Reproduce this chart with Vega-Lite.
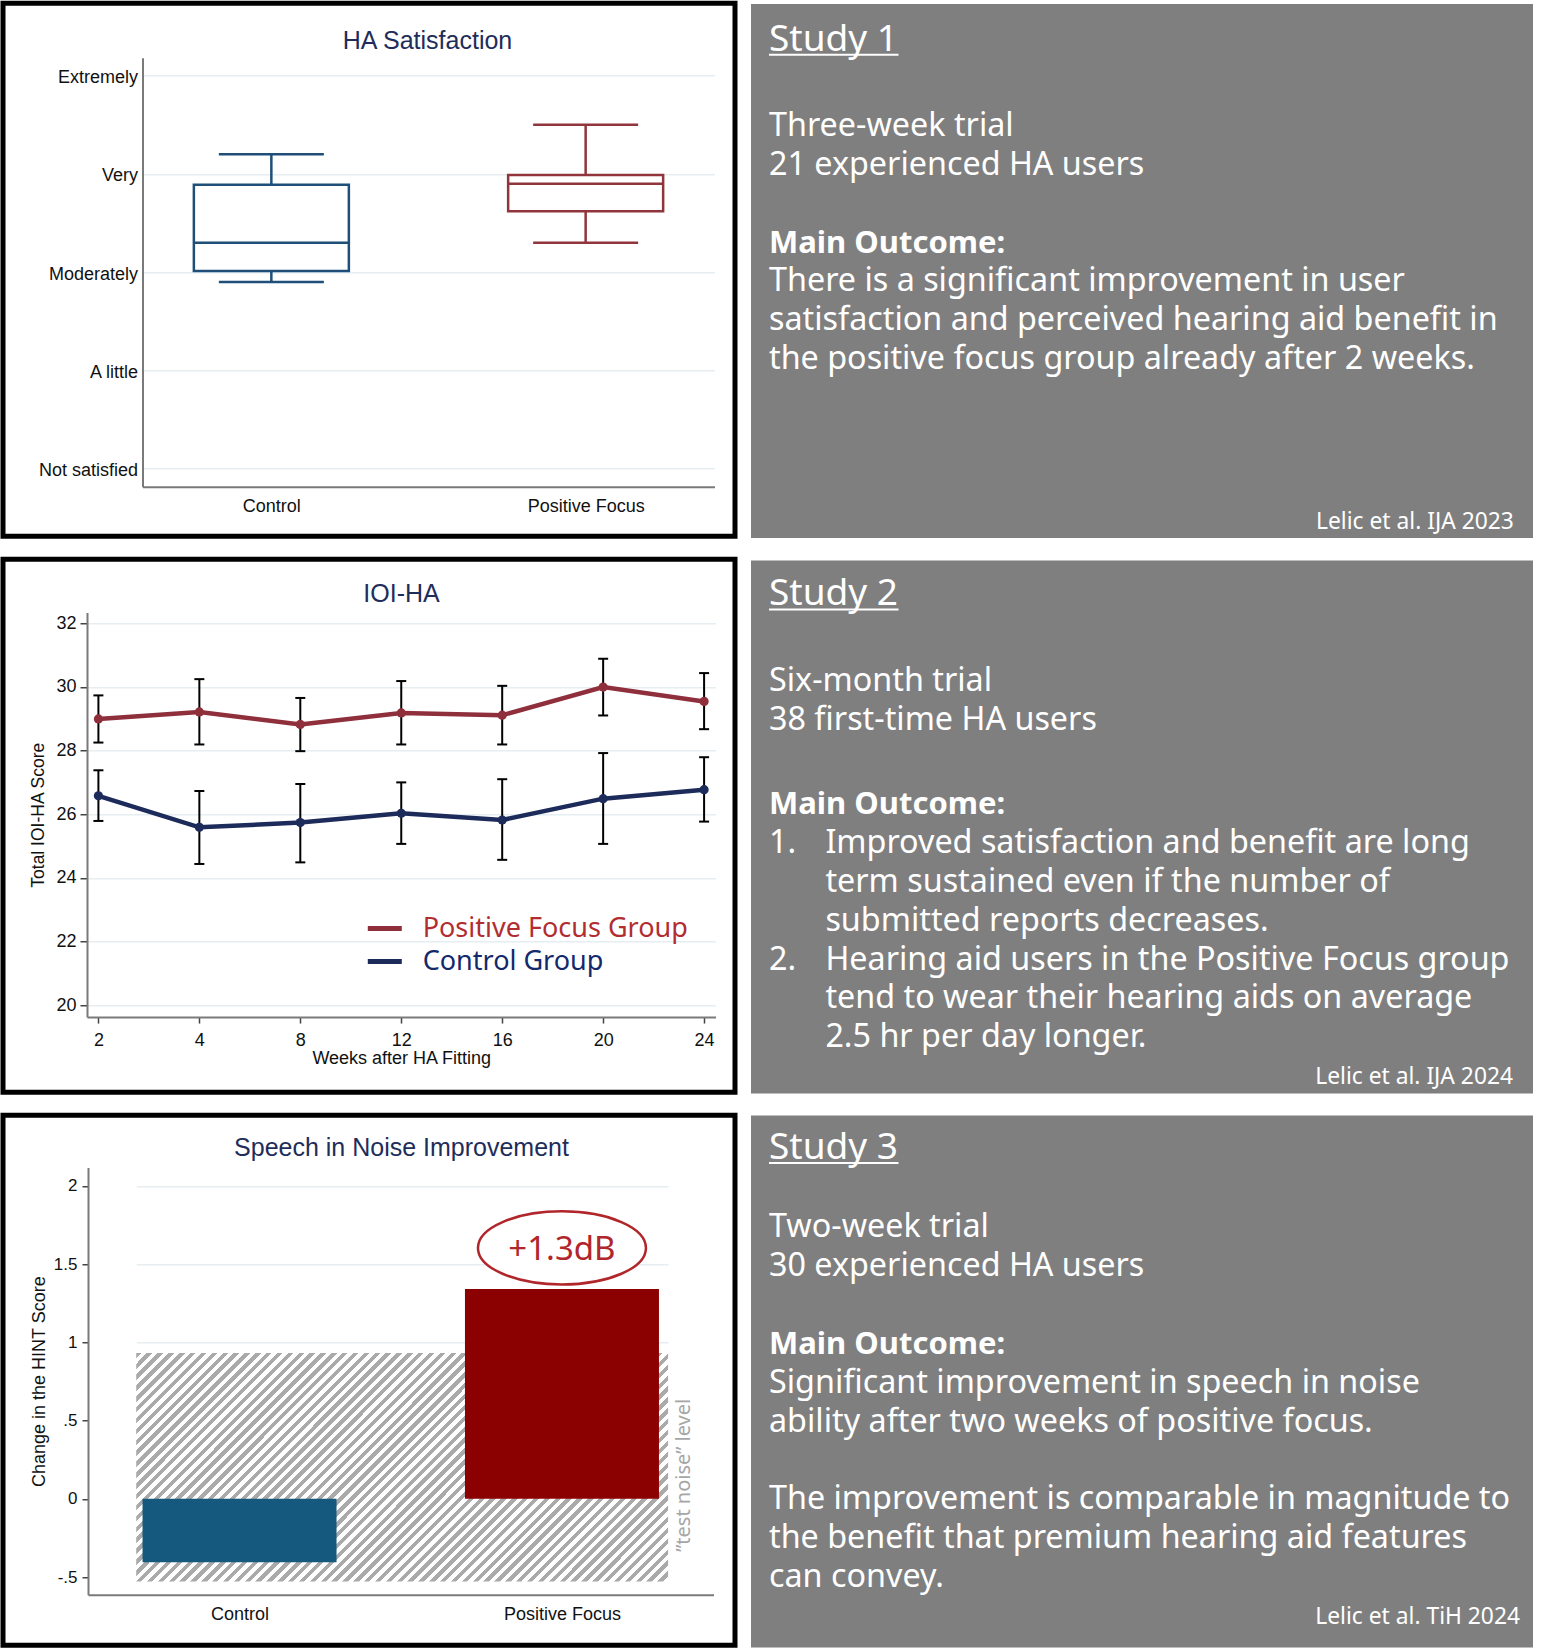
{
"$schema":"https://vega.github.io/schema/vega-lite/v6.json",
"padding":0,
"background":"#ffffff",
"spacing":17,
"resolve":{"scale":{"color":"independent","stroke":"independent"}},
"config":{"view":{"stroke":null},
 "axis":{"labelFont":"Liberation Sans","titleFont":"Liberation Sans","labelColor":"#111111","titleColor":"#111111","titleFontWeight":"normal","labelFontWeight":"normal","domainColor":"#7a7a7a","domainWidth":2,"tickColor":"#444444","tickWidth":1.5,"gridColor":"#e6eef1","gridWidth":1.5}},
"datasets":{
 "box":[
  {"group":"Control","min":2.9,"q1":3.01,"median":3.3,"q3":3.89,"max":4.2},
  {"group":"Positive Focus","min":3.3,"q1":3.62,"median":3.9,"q3":3.99,"max":4.5}],
 "ioi":[
  {"week":2,"group":"Positive Focus Group","mean":28.99,"lo":28.25,"hi":29.73},
  {"week":4,"group":"Positive Focus Group","mean":29.21,"lo":28.19,"hi":30.24},
  {"week":8,"group":"Positive Focus Group","mean":28.82,"lo":27.98,"hi":29.65},
  {"week":12,"group":"Positive Focus Group","mean":29.18,"lo":28.19,"hi":30.18},
  {"week":16,"group":"Positive Focus Group","mean":29.11,"lo":28.19,"hi":30.03},
  {"week":20,"group":"Positive Focus Group","mean":29.99,"lo":29.1,"hi":30.88},
  {"week":24,"group":"Positive Focus Group","mean":29.54,"lo":28.67,"hi":30.43},
  {"week":2,"group":"Control Group","mean":26.58,"lo":25.79,"hi":27.38},
  {"week":4,"group":"Control Group","mean":25.59,"lo":24.44,"hi":26.73},
  {"week":8,"group":"Control Group","mean":25.74,"lo":24.49,"hi":26.95},
  {"week":12,"group":"Control Group","mean":26.03,"lo":25.07,"hi":27.0},
  {"week":16,"group":"Control Group","mean":25.82,"lo":24.57,"hi":27.1},
  {"week":20,"group":"Control Group","mean":26.49,"lo":25.07,"hi":27.92},
  {"week":24,"group":"Control Group","mean":26.77,"lo":25.77,"hi":27.79}],
 "hint":[{"group":"Control","change":-0.405},{"group":"Positive Focus","change":1.34}],
 "noise":[{"band":"test noise","lo":-0.528,"hi":0.932}],
 "t1":[
  {"style":"heading","indent":0,"line":-2,"text":"Study 1"},
  {"style":"intro","indent":0,"line":0,"text":"Three-week trial"},
  {"style":"intro","indent":0,"line":1,"text":"21 experienced HA users"},
  {"style":"bold","indent":0,"line":3,"text":"Main Outcome:"},
  {"style":"body","indent":0,"line":4,"text":"There is a significant improvement in user"},
  {"style":"body","indent":0,"line":5,"text":"satisfaction and perceived hearing aid benefit in"},
  {"style":"body","indent":0,"line":6,"text":"the positive focus group already after 2 weeks."}],
 "t2":[
  {"style":"heading","indent":0,"line":-2,"text":"Study 2"},
  {"style":"intro","indent":0,"line":0,"text":"Six-month trial"},
  {"style":"intro","indent":0,"line":1,"text":"38 first-time HA users"},
  {"style":"bold","indent":0,"line":3,"text":"Main Outcome:"},
  {"style":"body","indent":0,"line":4,"text":"1."},
  {"style":"body","indent":1,"line":4,"text":"Improved satisfaction and benefit are long"},
  {"style":"body","indent":1,"line":5,"text":"term sustained even if the number of"},
  {"style":"body","indent":1,"line":6,"text":"submitted reports decreases."},
  {"style":"body","indent":0,"line":7,"text":"2."},
  {"style":"body","indent":1,"line":7,"text":"Hearing aid users in the Positive Focus group"},
  {"style":"body","indent":1,"line":8,"text":"tend to wear their hearing aids on average"},
  {"style":"body","indent":1,"line":9,"text":"2.5 hr per day longer."}],
 "t3":[
  {"style":"heading","indent":0,"line":-2,"text":"Study 3"},
  {"style":"intro","indent":0,"line":0,"text":"Two-week trial"},
  {"style":"intro","indent":0,"line":1,"text":"30 experienced HA users"},
  {"style":"bold","indent":0,"line":3,"text":"Main Outcome:"},
  {"style":"body","indent":0,"line":4,"text":"Significant improvement in speech in noise"},
  {"style":"body","indent":0,"line":5,"text":"ability after two weeks of positive focus."},
  {"style":"body","indent":0,"line":7,"text":"The improvement is comparable in magnitude to"},
  {"style":"body","indent":0,"line":8,"text":"the benefit that premium hearing aid features"},
  {"style":"body","indent":0,"line":9,"text":"can convey."}]
},
"vconcat":[
 {"hconcat":[
  {"width":732,"height":533,
   "view":{"stroke":"#000000","strokeWidth":5,"fill":"#ffffff"},
   "title":{"text":"HA Satisfaction","anchor":"middle","frame":"group","baseline":"alphabetic","offset":-70.5,"dx":58.5,"font":"Liberation Sans","fontSize":25,"fontWeight":"normal","color":"#1e2d5a"},
   "data":{"name":"box"},
   "encoding":{"x":{"field":"group","type":"nominal","sort":null,"scale":{"type":"point","domain":["Control","Positive Focus"],"range":[139.5,711.5],"padding":0.41},"axis":{"title":null,"orient":"bottom","offset":-49.5,"ticks":false,"tickSize":0,"labelPadding":10.7,"labelFontSize":18,"labelAngle":0,"grid":false}}},
   "layer":[
    {"mark":{"type":"rule","strokeWidth":2.5},
     "encoding":{"y":{"field":"min","type":"quantitative","scale":{"domain":[0.814,5.183],"range":[483.5,54.5],"nice":false,"zero":false},"axis":{"title":null,"orient":"left","values":[1,2,3,4,5],"labelExpr":"['','Not satisfied','A little','Moderately','Very','Extremely'][datum.value]","offset":-139.5,"ticks":false,"tickSize":0,"labelPadding":5,"labelFontSize":18,"labelOffset":2,"grid":true}},
      "y2":{"field":"q1"},
      "color":{"field":"group","type":"nominal","scale":{"domain":["Control","Positive Focus"],"range":["#1f4e79","#90353b"]},"legend":null}}},
    {"mark":{"type":"rule","strokeWidth":2.5},"encoding":{"y":{"field":"q3","type":"quantitative"},"y2":{"field":"max"},"color":{"field":"group","type":"nominal","legend":null}}},
    {"mark":{"type":"bar","size":155,"fill":"#ffffff","strokeWidth":2.5},"encoding":{"y":{"field":"q1","type":"quantitative"},"y2":{"field":"q3"},"stroke":{"field":"group","type":"nominal","scale":{"domain":["Control","Positive Focus"],"range":["#1f4e79","#90353b"]},"legend":null}}},
    {"mark":{"type":"tick","size":155,"thickness":2.5,"opacity":1},"encoding":{"y":{"field":"median","type":"quantitative"},"color":{"field":"group","type":"nominal","legend":null}}},
    {"mark":{"type":"tick","size":105,"thickness":2.5,"opacity":1},"encoding":{"y":{"field":"min","type":"quantitative"},"color":{"field":"group","type":"nominal","legend":null}}},
    {"mark":{"type":"tick","size":105,"thickness":2.5,"opacity":1},"encoding":{"y":{"field":"max","type":"quantitative"},"color":{"field":"group","type":"nominal","legend":null}}}
   ]},
  {"width":782,"height":534,
   "view":{"fill":"#7f7f7f","stroke":null},
   "title":{"text":"Lelic et al. IJA 2023","orient":"bottom","anchor":"end","frame":"group","baseline":"alphabetic","offset":-9.4,"dx":-19.2,"font":"Noto Sans","fontSize":22.8,"fontWeight":"normal","color":"#ffffff"},
   "data":{"name":"t1"},
   "encoding":{"x":{"field":"indent","type":"quantitative","scale":{"domain":[0,1],"range":[18,74.4],"zero":false,"nice":false},"axis":null},
    "y":{"field":"line","type":"quantitative","scale":{"domain":[0,10],"range":[131.8,520.8],"zero":false,"nice":false},"axis":null}},
   "layer":[
    {"transform":[{"filter":"datum.style === 'heading'"}],"mark":{"type":"text","align":"left","baseline":"alphabetic","font":"Noto Sans","fontSize":37,"color":"#ffffff","dy":-7.3},"encoding":{"text":{"field":"text"}}},
    {"transform":[{"filter":"datum.style === 'heading'"}],"mark":{"type":"rule","color":"#ffffff","strokeWidth":2},"encoding":{"x":{"datum":0},"x2":{"datum":2.296},"y":{"datum":-2.082}}},
    {"transform":[{"filter":"datum.style === 'intro'"}],"mark":{"type":"text","align":"left","baseline":"alphabetic","font":"Noto Sans","fontSize":32.3,"color":"#ffffff"},"encoding":{"text":{"field":"text"}}},
    {"transform":[{"filter":"datum.style === 'body'"}],"mark":{"type":"text","align":"left","baseline":"alphabetic","font":"Noto Sans","fontSize":32.3,"color":"#ffffff"},"encoding":{"text":{"field":"text"}}},
    {"transform":[{"filter":"datum.style === 'bold'"}],"mark":{"type":"text","align":"left","baseline":"alphabetic","font":"Noto Sans","fontSize":31,"fontWeight":"bold","color":"#ffffff"},"encoding":{"text":{"field":"text"}}}
   ]}
 ],"spacing":13,"center":true,"resolve":{"scale":{"color":"independent","stroke":"independent"}}},
 {"hconcat":[
  {"width":732,"height":533,
   "view":{"stroke":"#000000","strokeWidth":5,"fill":"#ffffff"},
   "title":{"text":"IOI-HA","anchor":"middle","frame":"group","baseline":"alphabetic","offset":-67.5,"dx":32.5,"font":"Liberation Sans","fontSize":25,"fontWeight":"normal","color":"#1e2d5a"},
   "data":{"name":"ioi"},
   "encoding":{"x":{"field":"week","type":"ordinal","sort":null,"scale":{"type":"point","domain":[2,4,8,12,16,20,24],"range":[84,712.5],"padding":0.113},"axis":{"title":"Weeks after HA Fitting","titleFontSize":18,"titlePadding":0,"orient":"bottom","offset":-75.2,"tickSize":6,"labelPadding":8.7,"labelFontSize":18,"labelAngle":0,"grid":false}}},
   "layer":[
    {"mark":{"type":"line","strokeWidth":4.5},
     "encoding":{"y":{"field":"mean","type":"quantitative","scale":{"domain":[19.636,32.333],"range":[457.8,53.2],"nice":false,"zero":false},"axis":{"title":"Total IOI-HA Score","titleFontSize":17.5,"titlePadding":8,"orient":"left","values":[20,22,24,26,28,30,32],"offset":-84,"tickSize":7,"labelPadding":4,"labelFontSize":18,"grid":true}},
      "stroke":{"field":"group","type":"nominal","scale":{"domain":["Positive Focus Group","Control Group"],"range":["#8f2f3c","#1c2b5a"]},
       "legend":{"orient":"none","legendX":362.3,"legendY":349.8,"title":null,"symbolType":"stroke","symbolSize":1156,"symbolStrokeWidth":5,"labelFont":"Noto Sans","labelFontSize":27,"labelOffset":18.4,"rowPadding":0,"padding":0,"labelLimit":500,
        "encode":{"labels":{"update":{"fill":{"signal":"datum.value === 'Positive Focus Group' ? '#b22d30' : '#13296b'"}}}}}}}},
    {"mark":{"type":"rule","color":"#000000","strokeWidth":2},"encoding":{"y":{"field":"lo","type":"quantitative"},"y2":{"field":"hi"}}},
    {"mark":{"type":"tick","color":"#000000","size":10,"thickness":2,"opacity":1},"encoding":{"y":{"field":"lo","type":"quantitative"}}},
    {"mark":{"type":"tick","color":"#000000","size":10,"thickness":2,"opacity":1},"encoding":{"y":{"field":"hi","type":"quantitative"}}},
    {"mark":{"type":"point","filled":true,"size":85,"opacity":1},"encoding":{"y":{"field":"mean","type":"quantitative"},"color":{"field":"group","type":"nominal","scale":{"domain":["Positive Focus Group","Control Group"],"range":["#8f2f3c","#1c2b5a"]},"legend":null}}}
   ]},
  {"width":782,"height":533,
   "view":{"fill":"#7f7f7f","stroke":null},
   "title":{"text":"Lelic et al. IJA 2024","orient":"bottom","anchor":"end","frame":"group","baseline":"alphabetic","offset":-9.9,"dx":-20,"font":"Noto Sans","fontSize":22.8,"fontWeight":"normal","color":"#ffffff"},
   "data":{"name":"t2"},
   "encoding":{"x":{"field":"indent","type":"quantitative","scale":{"domain":[0,1],"range":[18,74.4],"zero":false,"nice":false},"axis":null},
    "y":{"field":"line","type":"quantitative","scale":{"domain":[0,10],"range":[136.7,525.7],"zero":false,"nice":false},"axis":null}},
   "layer":[
    {"transform":[{"filter":"datum.style === 'heading'"}],"mark":{"type":"text","align":"left","baseline":"alphabetic","font":"Noto Sans","fontSize":37,"color":"#ffffff","dy":-14},"encoding":{"text":{"field":"text"}}},
    {"transform":[{"filter":"datum.style === 'heading'"}],"mark":{"type":"rule","color":"#ffffff","strokeWidth":2},"encoding":{"x":{"datum":0},"x2":{"datum":2.296},"y":{"datum":-2.254}}},
    {"transform":[{"filter":"datum.style === 'intro'"}],"mark":{"type":"text","align":"left","baseline":"alphabetic","font":"Noto Sans","fontSize":32.3,"color":"#ffffff","dy":-6.4},"encoding":{"text":{"field":"text"}}},
    {"transform":[{"filter":"datum.style === 'body'"}],"mark":{"type":"text","align":"left","baseline":"alphabetic","font":"Noto Sans","fontSize":32.3,"color":"#ffffff"},"encoding":{"text":{"field":"text"}}},
    {"transform":[{"filter":"datum.style === 'bold'"}],"mark":{"type":"text","align":"left","baseline":"alphabetic","font":"Noto Sans","fontSize":31,"fontWeight":"bold","color":"#ffffff"},"encoding":{"text":{"field":"text"}}}
   ]}
 ],"spacing":13,"center":true,"resolve":{"scale":{"color":"independent","stroke":"independent"}}},
 {"hconcat":[
  {"width":732,"height":530,
   "view":{"stroke":"#000000","strokeWidth":5,"fill":"#ffffff"},
   "title":{"text":"Speech in Noise Improvement","anchor":"middle","frame":"group","baseline":"alphabetic","offset":-66,"dx":32.5,"font":"Liberation Sans","fontSize":25,"fontWeight":"normal","color":"#1e2d5a"},
   "resolve":{"scale":{"x":"independent"}},
   "layer":[
    {"data":{"name":"noise"},
     "encoding":{"x":{"field":"band","type":"nominal","scale":{"type":"band","range":[133.2,665.1],"paddingInner":0,"paddingOuter":0},"axis":null}},
     "layer":[
      {"mark":{"type":"rect","strokeWidth":0,"fill":{"gradient":"linear","x1":0,"y1":0,"x2":1.207,"y2":0.518,"stops":[
{"offset":0,"color":"#aaa"},
{"offset":0.00714,"color":"#aaa"},{"offset":0.00714,"color":"#fff"},{"offset":0.01429,"color":"#fff"},{"offset":0.01429,"color":"#aaa"},
{"offset":0.02143,"color":"#aaa"},{"offset":0.02143,"color":"#fff"},{"offset":0.02857,"color":"#fff"},{"offset":0.02857,"color":"#aaa"},
{"offset":0.03571,"color":"#aaa"},{"offset":0.03571,"color":"#fff"},{"offset":0.04286,"color":"#fff"},{"offset":0.04286,"color":"#aaa"},
{"offset":0.05,"color":"#aaa"},{"offset":0.05,"color":"#fff"},{"offset":0.05714,"color":"#fff"},{"offset":0.05714,"color":"#aaa"},
{"offset":0.06429,"color":"#aaa"},{"offset":0.06429,"color":"#fff"},{"offset":0.07143,"color":"#fff"},{"offset":0.07143,"color":"#aaa"},
{"offset":0.07857,"color":"#aaa"},{"offset":0.07857,"color":"#fff"},{"offset":0.08571,"color":"#fff"},{"offset":0.08571,"color":"#aaa"},
{"offset":0.09286,"color":"#aaa"},{"offset":0.09286,"color":"#fff"},{"offset":0.1,"color":"#fff"},{"offset":0.1,"color":"#aaa"},
{"offset":0.10714,"color":"#aaa"},{"offset":0.10714,"color":"#fff"},{"offset":0.11429,"color":"#fff"},{"offset":0.11429,"color":"#aaa"},
{"offset":0.12143,"color":"#aaa"},{"offset":0.12143,"color":"#fff"},{"offset":0.12857,"color":"#fff"},{"offset":0.12857,"color":"#aaa"},
{"offset":0.13571,"color":"#aaa"},{"offset":0.13571,"color":"#fff"},{"offset":0.14286,"color":"#fff"},{"offset":0.14286,"color":"#aaa"},
{"offset":0.15,"color":"#aaa"},{"offset":0.15,"color":"#fff"},{"offset":0.15714,"color":"#fff"},{"offset":0.15714,"color":"#aaa"},
{"offset":0.16429,"color":"#aaa"},{"offset":0.16429,"color":"#fff"},{"offset":0.17143,"color":"#fff"},{"offset":0.17143,"color":"#aaa"},
{"offset":0.17857,"color":"#aaa"},{"offset":0.17857,"color":"#fff"},{"offset":0.18571,"color":"#fff"},{"offset":0.18571,"color":"#aaa"},
{"offset":0.19286,"color":"#aaa"},{"offset":0.19286,"color":"#fff"},{"offset":0.2,"color":"#fff"},{"offset":0.2,"color":"#aaa"},
{"offset":0.20714,"color":"#aaa"},{"offset":0.20714,"color":"#fff"},{"offset":0.21429,"color":"#fff"},{"offset":0.21429,"color":"#aaa"},
{"offset":0.22143,"color":"#aaa"},{"offset":0.22143,"color":"#fff"},{"offset":0.22857,"color":"#fff"},{"offset":0.22857,"color":"#aaa"},
{"offset":0.23571,"color":"#aaa"},{"offset":0.23571,"color":"#fff"},{"offset":0.24286,"color":"#fff"},{"offset":0.24286,"color":"#aaa"},
{"offset":0.25,"color":"#aaa"},{"offset":0.25,"color":"#fff"},{"offset":0.25714,"color":"#fff"},{"offset":0.25714,"color":"#aaa"},
{"offset":0.26429,"color":"#aaa"},{"offset":0.26429,"color":"#fff"},{"offset":0.27143,"color":"#fff"},{"offset":0.27143,"color":"#aaa"},
{"offset":0.27857,"color":"#aaa"},{"offset":0.27857,"color":"#fff"},{"offset":0.28571,"color":"#fff"},{"offset":0.28571,"color":"#aaa"},
{"offset":0.29286,"color":"#aaa"},{"offset":0.29286,"color":"#fff"},{"offset":0.3,"color":"#fff"},{"offset":0.3,"color":"#aaa"},
{"offset":0.30714,"color":"#aaa"},{"offset":0.30714,"color":"#fff"},{"offset":0.31429,"color":"#fff"},{"offset":0.31429,"color":"#aaa"},
{"offset":0.32143,"color":"#aaa"},{"offset":0.32143,"color":"#fff"},{"offset":0.32857,"color":"#fff"},{"offset":0.32857,"color":"#aaa"},
{"offset":0.33571,"color":"#aaa"},{"offset":0.33571,"color":"#fff"},{"offset":0.34286,"color":"#fff"},{"offset":0.34286,"color":"#aaa"},
{"offset":0.35,"color":"#aaa"},{"offset":0.35,"color":"#fff"},{"offset":0.35714,"color":"#fff"},{"offset":0.35714,"color":"#aaa"},
{"offset":0.36429,"color":"#aaa"},{"offset":0.36429,"color":"#fff"},{"offset":0.37143,"color":"#fff"},{"offset":0.37143,"color":"#aaa"},
{"offset":0.37857,"color":"#aaa"},{"offset":0.37857,"color":"#fff"},{"offset":0.38571,"color":"#fff"},{"offset":0.38571,"color":"#aaa"},
{"offset":0.39286,"color":"#aaa"},{"offset":0.39286,"color":"#fff"},{"offset":0.4,"color":"#fff"},{"offset":0.4,"color":"#aaa"},
{"offset":0.40714,"color":"#aaa"},{"offset":0.40714,"color":"#fff"},{"offset":0.41429,"color":"#fff"},{"offset":0.41429,"color":"#aaa"},
{"offset":0.42143,"color":"#aaa"},{"offset":0.42143,"color":"#fff"},{"offset":0.42857,"color":"#fff"},{"offset":0.42857,"color":"#aaa"},
{"offset":0.43571,"color":"#aaa"},{"offset":0.43571,"color":"#fff"},{"offset":0.44286,"color":"#fff"},{"offset":0.44286,"color":"#aaa"},
{"offset":0.45,"color":"#aaa"},{"offset":0.45,"color":"#fff"},{"offset":0.45714,"color":"#fff"},{"offset":0.45714,"color":"#aaa"},
{"offset":0.46429,"color":"#aaa"},{"offset":0.46429,"color":"#fff"},{"offset":0.47143,"color":"#fff"},{"offset":0.47143,"color":"#aaa"},
{"offset":0.47857,"color":"#aaa"},{"offset":0.47857,"color":"#fff"},{"offset":0.48571,"color":"#fff"},{"offset":0.48571,"color":"#aaa"},
{"offset":0.49286,"color":"#aaa"},{"offset":0.49286,"color":"#fff"},{"offset":0.5,"color":"#fff"},{"offset":0.5,"color":"#aaa"},
{"offset":0.50714,"color":"#aaa"},{"offset":0.50714,"color":"#fff"},{"offset":0.51429,"color":"#fff"},{"offset":0.51429,"color":"#aaa"},
{"offset":0.52143,"color":"#aaa"},{"offset":0.52143,"color":"#fff"},{"offset":0.52857,"color":"#fff"},{"offset":0.52857,"color":"#aaa"},
{"offset":0.53571,"color":"#aaa"},{"offset":0.53571,"color":"#fff"},{"offset":0.54286,"color":"#fff"},{"offset":0.54286,"color":"#aaa"},
{"offset":0.55,"color":"#aaa"},{"offset":0.55,"color":"#fff"},{"offset":0.55714,"color":"#fff"},{"offset":0.55714,"color":"#aaa"},
{"offset":0.56429,"color":"#aaa"},{"offset":0.56429,"color":"#fff"},{"offset":0.57143,"color":"#fff"},{"offset":0.57143,"color":"#aaa"},
{"offset":0.57857,"color":"#aaa"},{"offset":0.57857,"color":"#fff"},{"offset":0.58571,"color":"#fff"},{"offset":0.58571,"color":"#aaa"},
{"offset":0.59286,"color":"#aaa"},{"offset":0.59286,"color":"#fff"},{"offset":0.6,"color":"#fff"},{"offset":0.6,"color":"#aaa"},
{"offset":0.60714,"color":"#aaa"},{"offset":0.60714,"color":"#fff"},{"offset":0.61429,"color":"#fff"},{"offset":0.61429,"color":"#aaa"},
{"offset":0.62143,"color":"#aaa"},{"offset":0.62143,"color":"#fff"},{"offset":0.62857,"color":"#fff"},{"offset":0.62857,"color":"#aaa"},
{"offset":0.63571,"color":"#aaa"},{"offset":0.63571,"color":"#fff"},{"offset":0.64286,"color":"#fff"},{"offset":0.64286,"color":"#aaa"},
{"offset":0.65,"color":"#aaa"},{"offset":0.65,"color":"#fff"},{"offset":0.65714,"color":"#fff"},{"offset":0.65714,"color":"#aaa"},
{"offset":0.66429,"color":"#aaa"},{"offset":0.66429,"color":"#fff"},{"offset":0.67143,"color":"#fff"},{"offset":0.67143,"color":"#aaa"},
{"offset":0.67857,"color":"#aaa"},{"offset":0.67857,"color":"#fff"},{"offset":0.68571,"color":"#fff"},{"offset":0.68571,"color":"#aaa"},
{"offset":0.69286,"color":"#aaa"},{"offset":0.69286,"color":"#fff"},{"offset":0.7,"color":"#fff"},{"offset":0.7,"color":"#aaa"},
{"offset":0.70714,"color":"#aaa"},{"offset":0.70714,"color":"#fff"},{"offset":0.71429,"color":"#fff"},{"offset":0.71429,"color":"#aaa"},
{"offset":0.72143,"color":"#aaa"},{"offset":0.72143,"color":"#fff"},{"offset":0.72857,"color":"#fff"},{"offset":0.72857,"color":"#aaa"},
{"offset":0.73571,"color":"#aaa"},{"offset":0.73571,"color":"#fff"},{"offset":0.74286,"color":"#fff"},{"offset":0.74286,"color":"#aaa"},
{"offset":0.75,"color":"#aaa"},{"offset":0.75,"color":"#fff"},{"offset":0.75714,"color":"#fff"},{"offset":0.75714,"color":"#aaa"},
{"offset":0.76429,"color":"#aaa"},{"offset":0.76429,"color":"#fff"},{"offset":0.77143,"color":"#fff"},{"offset":0.77143,"color":"#aaa"},
{"offset":0.77857,"color":"#aaa"},{"offset":0.77857,"color":"#fff"},{"offset":0.78571,"color":"#fff"},{"offset":0.78571,"color":"#aaa"},
{"offset":0.79286,"color":"#aaa"},{"offset":0.79286,"color":"#fff"},{"offset":0.8,"color":"#fff"},{"offset":0.8,"color":"#aaa"},
{"offset":0.80714,"color":"#aaa"},{"offset":0.80714,"color":"#fff"},{"offset":0.81429,"color":"#fff"},{"offset":0.81429,"color":"#aaa"},
{"offset":0.82143,"color":"#aaa"},{"offset":0.82143,"color":"#fff"},{"offset":0.82857,"color":"#fff"},{"offset":0.82857,"color":"#aaa"},
{"offset":0.83571,"color":"#aaa"},{"offset":0.83571,"color":"#fff"},{"offset":0.84286,"color":"#fff"},{"offset":0.84286,"color":"#aaa"},
{"offset":0.85,"color":"#aaa"},{"offset":0.85,"color":"#fff"},{"offset":0.85714,"color":"#fff"},{"offset":0.85714,"color":"#aaa"},
{"offset":0.86429,"color":"#aaa"},{"offset":0.86429,"color":"#fff"},{"offset":0.87143,"color":"#fff"},{"offset":0.87143,"color":"#aaa"},
{"offset":0.87857,"color":"#aaa"},{"offset":0.87857,"color":"#fff"},{"offset":0.88571,"color":"#fff"},{"offset":0.88571,"color":"#aaa"},
{"offset":0.89286,"color":"#aaa"},{"offset":0.89286,"color":"#fff"},{"offset":0.9,"color":"#fff"},{"offset":0.9,"color":"#aaa"},
{"offset":0.90714,"color":"#aaa"},{"offset":0.90714,"color":"#fff"},{"offset":0.91429,"color":"#fff"},{"offset":0.91429,"color":"#aaa"},
{"offset":0.92143,"color":"#aaa"},{"offset":0.92143,"color":"#fff"},{"offset":0.92857,"color":"#fff"},{"offset":0.92857,"color":"#aaa"},
{"offset":0.93571,"color":"#aaa"},{"offset":0.93571,"color":"#fff"},{"offset":0.94286,"color":"#fff"},{"offset":0.94286,"color":"#aaa"},
{"offset":0.95,"color":"#aaa"},{"offset":0.95,"color":"#fff"},{"offset":0.95714,"color":"#fff"},{"offset":0.95714,"color":"#aaa"},
{"offset":0.96429,"color":"#aaa"},{"offset":0.96429,"color":"#fff"},{"offset":0.97143,"color":"#fff"},{"offset":0.97143,"color":"#aaa"},
{"offset":0.97857,"color":"#aaa"},{"offset":0.97857,"color":"#fff"},{"offset":0.98571,"color":"#fff"},{"offset":0.98571,"color":"#aaa"},
{"offset":0.99286,"color":"#aaa"},{"offset":0.99286,"color":"#fff"},{"offset":1,"color":"#fff"}]}},
       "encoding":{"y":{"field":"lo","type":"quantitative","scale":{"domain":[-0.613,2.117],"range":[479.5,52.2],"nice":false,"zero":false}},"y2":{"field":"hi"}}},
      {"mark":{"type":"text","text":"\u201dtest noise\u201d level","angle":270,"align":"center","baseline":"middle","dy":15.4,"font":"Noto Sans","fontSize":20,"color":"#a6a6a6"},
       "encoding":{"x":{"field":"band","type":"nominal","bandPosition":1},"y":{"datum":0.15,"type":"quantitative"}}}
     ]},
    {"data":{"name":"hint"},
     "encoding":{"x":{"field":"group","type":"nominal","sort":null,"scale":{"type":"point","domain":["Control","Positive Focus"],"range":[85,710.5],"padding":0.47},"axis":{"title":null,"orient":"bottom","offset":-50.5,"ticks":false,"tickSize":0,"labelPadding":11,"labelFontSize":18,"labelAngle":0,"grid":false}}},
     "layer":[
      {"mark":{"type":"bar","size":194},
       "encoding":{"y":{"field":"change","type":"quantitative","scale":{"domain":[-0.613,2.117],"range":[479.5,52.2],"nice":false,"zero":false},"axis":{"title":"Change in the HINT Score","titleFontSize":18,"titlePadding":5,"orient":"left","values":[-0.5,0,0.5,1,1.5,2],"labelExpr":"datum.value == 0.5 ? '.5' : datum.value == -0.5 ? '-.5' : format(datum.value, '~g')","offset":-85,"tickSize":6,"labelPadding":5,"labelFontSize":17,"grid":true}},
        "color":{"field":"group","type":"nominal","scale":{"domain":["Control","Positive Focus"],"range":["#155a7e","#8b0000"]},"legend":null}}},
      {"transform":[{"filter":"datum.group === 'Positive Focus'"}],
       "mark":{"type":"point","shape":"M -1 0 A 1 0.435 0 1 1 1 0 A 1 0.435 0 1 1 -1 0 Z","size":28224,"filled":true,"fill":"#ffffff","stroke":"#b0262b","strokeWidth":2.5,"opacity":1},
       "encoding":{"y":{"datum":1.603,"type":"quantitative"}}},
      {"transform":[{"filter":"datum.group === 'Positive Focus'"}],
       "mark":{"type":"text","text":"+1.3dB","font":"Noto Sans","fontSize":33,"color":"#b0262b","align":"center","baseline":"middle","dy":2},
       "encoding":{"y":{"datum":1.603,"type":"quantitative"}}}
     ]}
   ]},
  {"width":782,"height":532,
   "view":{"fill":"#7f7f7f","stroke":null},
   "title":{"text":"Lelic et al. TiH 2024","orient":"bottom","anchor":"end","frame":"group","baseline":"alphabetic","offset":-23.9,"dx":-13,"font":"Noto Sans","fontSize":22.8,"fontWeight":"normal","color":"#ffffff"},
   "data":{"name":"t3"},
   "encoding":{"x":{"field":"indent","type":"quantitative","scale":{"domain":[0,1],"range":[18,74.4],"zero":false,"nice":false},"axis":null},
    "y":{"field":"line","type":"quantitative","scale":{"domain":[0,10],"range":[121.5,510.5],"zero":false,"nice":false},"axis":null}},
   "layer":[
    {"transform":[{"filter":"datum.style === 'heading'"}],"mark":{"type":"text","align":"left","baseline":"alphabetic","font":"Noto Sans","fontSize":37,"color":"#ffffff","dy":-0.3},"encoding":{"text":{"field":"text"}}},
    {"transform":[{"filter":"datum.style === 'heading'"}],"mark":{"type":"rule","color":"#ffffff","strokeWidth":2},"encoding":{"x":{"datum":0},"x2":{"datum":2.296},"y":{"datum":-1.902}}},
    {"transform":[{"filter":"datum.style === 'intro'"}],"mark":{"type":"text","align":"left","baseline":"alphabetic","font":"Noto Sans","fontSize":32.3,"color":"#ffffff"},"encoding":{"text":{"field":"text"}}},
    {"transform":[{"filter":"datum.style === 'body'"}],"mark":{"type":"text","align":"left","baseline":"alphabetic","font":"Noto Sans","fontSize":32.3,"color":"#ffffff"},"encoding":{"text":{"field":"text"}}},
    {"transform":[{"filter":"datum.style === 'bold'"}],"mark":{"type":"text","align":"left","baseline":"alphabetic","font":"Noto Sans","fontSize":31,"fontWeight":"bold","color":"#ffffff"},"encoding":{"text":{"field":"text"}}}
   ]}
 ],"spacing":13,"center":true,"resolve":{"scale":{"color":"independent","stroke":"independent"}}}
]
}
